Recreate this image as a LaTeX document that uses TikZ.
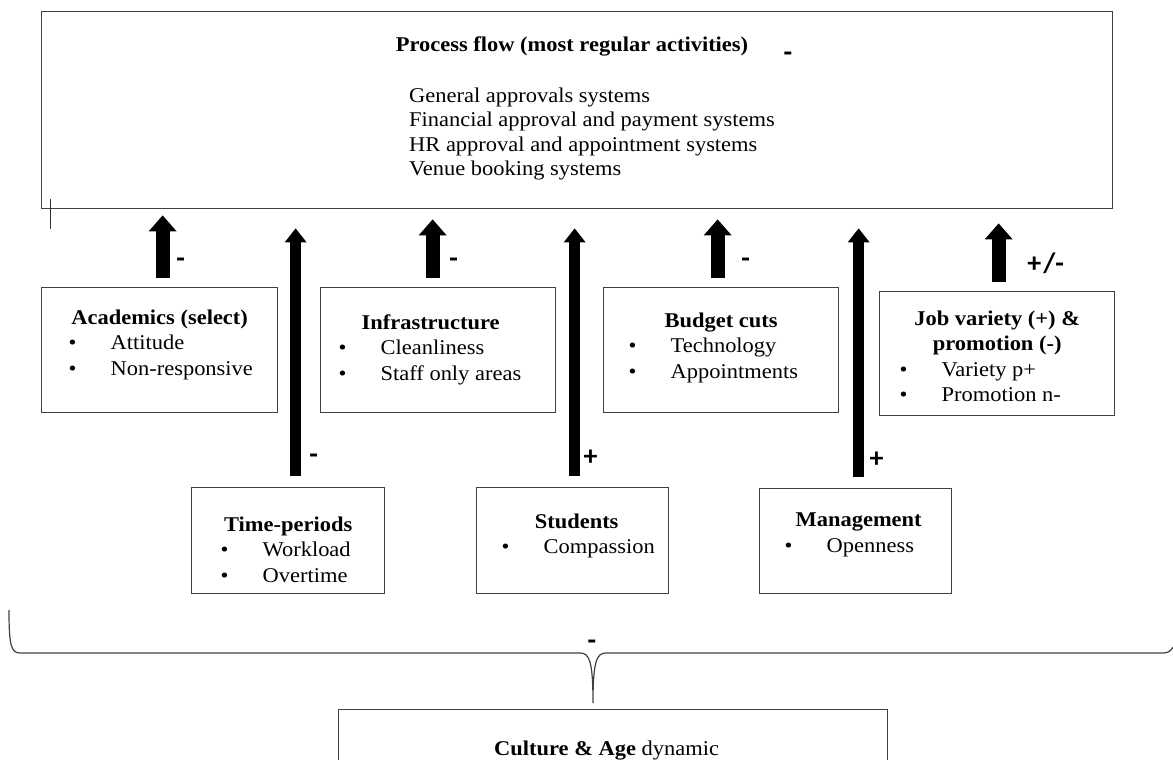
\documentclass[tikz,border=0pt]{standalone}
\usepackage{fontspec}
\setmainfont{Liberation Serif}[FakeStretch=1.07]
\newfontfamily\signfont{Carlito}
\usetikzlibrary{positioning,arrows.meta,calc}
\definecolor{linegray}{HTML}{404040}

% one bullet line inside a factor box
\newcommand\bul[2]{\hspace*{#1}\makebox[42pt][l]{\textbullet}#2\par}

\begin{document}
\fontsize{21pt}{25.5pt}\selectfont
\begin{tikzpicture}[x=1pt, y=-1pt,
  flowbox/.style={draw=linegray, line width=1.4pt, inner sep=0pt,
    minimum width=1071pt, minimum height=197pt, anchor=north west},
  factor/.style={draw=linegray, line width=1.3pt, inner sep=0pt},
  sign/.style={font=\signfont\bfseries\fontsize{28pt}{28pt}\selectfont, inner sep=0pt},
  minus/.style={sign, yshift=-5pt},
  shortarrow/.style={line width=14pt, -{Triangle[width=28pt,length=16pt,line width=0pt]},
    shorten <=9.5pt, shorten >=10pt},
  longarrow/.style={line width=10.5pt, -{Triangle[width=22pt,length=14pt,line width=0pt]},
    shorten <=11pt, shorten >=19pt},
  bracepath/.style={draw=linegray, line width=1.2pt},
]
  \useasboundingbox (0,0) rectangle (1173,760);

  % Process flow
  \node[flowbox] (flow) at (41,11) {};
  \node[anchor=base, font=\bfseries] (flowtitle) at (572,52) {Process flow (most regular activities)};
  \node[minus] (flowsign) at (788,52) {-};
  \node[anchor=north west, inner sep=0pt, align=left, font=\fontsize{21pt}{24.3pt}\selectfont]
    (flowlist) at (409,87.7) {General approvals systems\\Financial approval and payment systems\\HR approval and appointment systems\\Venue booking systems};
  \draw[line width=.8pt, black!80] (50.5,199) -- (50.5,229);

  % Factors, top row
  \node[factor, anchor=north west] (acad) at (41,287) {\parbox[t][125pt][t]{236pt}{\vspace*{22pt}\centering
    \textbf{Academics (select)}\par\raggedright\bul{27pt}{Attitude}\bul{27pt}{Non-responsive}}};
  \node[factor, right=41.7pt of acad] (infra) {\parbox[t][125pt][t]{235pt}{\vspace*{27pt}\centering
    \hspace*{-15pt}\textbf{Infrastructure}\par\raggedright\bul{18pt}{Cleanliness}\bul{18pt}{Staff only areas}}};
  \node[factor, right=46.7pt of infra] (budget) {\parbox[t][125pt][t]{235pt}{\vspace*{25pt}\centering
    \textbf{Budget cuts}\par\raggedright\bul{25pt}{Technology}\bul{25pt}{Appointments}}};
  \node[factor, right=39.7pt of budget, yshift=-3.5pt] (job) {\parbox[t][124pt][t]{235pt}{\vspace*{19pt}\centering
    \textbf{Job variety (+) \&\\promotion (-)}\par\raggedright\bul{20pt}{Variety p+}\bul{20pt}{Promotion n-}}};

  % Factors, bottom row
  \node[factor, anchor=north west] (time) at (191,487) {\parbox[t][106pt][t]{193pt}{\vspace*{29pt}\centering
    \textbf{Time-periods}\par\raggedright\bul{29pt}{Workload}\bul{29pt}{Overtime}}};
  \node[factor, right=90.7pt of time] (stud) {\parbox[t][106pt][t]{192pt}{\vspace*{26pt}\centering
    \hspace*{8pt}\textbf{Students}\par\raggedright\bul{25pt}{Compassion}}};
  \node[factor, right=89.7pt of stud] (mgmt) {\parbox[t][105pt][t]{192pt}{\vspace*{25pt}\centering
    \hspace*{6pt}\textbf{Management}\par\raggedright\bul{25pt}{Openness}}};

  % Culture
  \node[factor, anchor=north west] (culture) at (338,709) {\parbox[t][100pt][t]{549pt}{\vspace*{31pt}\centering
    \hspace*{-13pt}\textbf{Culture \& Age} dynamic}};

  % Influences
  \coordinate (a1) at ([xshift=3pt]acad.north);
  \coordinate (a2) at ([xshift=7.5pt]time.north);
  \coordinate (a3) at ([xshift=-5.5pt]infra.north);
  \coordinate (a4) at ([xshift=2pt]stud.north);
  \coordinate (a5) at ([xshift=-3.5pt]budget.north);
  \coordinate (a6) at ([xshift=3pt]mgmt.north);
  \coordinate (a7) at ([xshift=1.5pt]job.north);
  \draw[shortarrow, shorten >=6pt] (a1) -- node[minus, pos=.38, xshift=18pt] {-} (a1 |- flow.south);
  \draw[longarrow] (a2) -- node[minus, pos=.12, xshift=18pt] {-} (a2 |- flow.south);
  \draw[shortarrow] (a3) -- node[minus, pos=.375, xshift=21pt] {-} (a3 |- flow.south);
  \draw[longarrow] (a4) -- node[sign, pos=.104, xshift=16pt] {+} (a4 |- flow.south);
  \draw[shortarrow] (a5) -- node[minus, pos=.375, xshift=28pt] {-} (a5 |- flow.south);
  \draw[longarrow] (a6) -- node[sign, pos=.10, xshift=18pt] {+} (a6 |- flow.south);
  \draw[shortarrow, shorten >=14pt] (a7) -- node[sign, pos=.345, xshift=47pt] {+\kern2pt/-} (a7 |- flow.south);

  % Brace
  \coordinate (bracetip) at (593,703);
  \draw[bracepath] (9,610) .. controls (9,645) and (11,653) .. (20,653) -- (580,653)
    .. controls (589,653) and (593,660) .. (bracetip)
    .. controls (593,660) and (597,653) .. (606,653) -- (1163,653)
    .. controls (1168,653) and (1171,651) .. (1173,647);
  \node[minus] (bracesign) at (592,640) {-};
\end{tikzpicture}
\end{document}
